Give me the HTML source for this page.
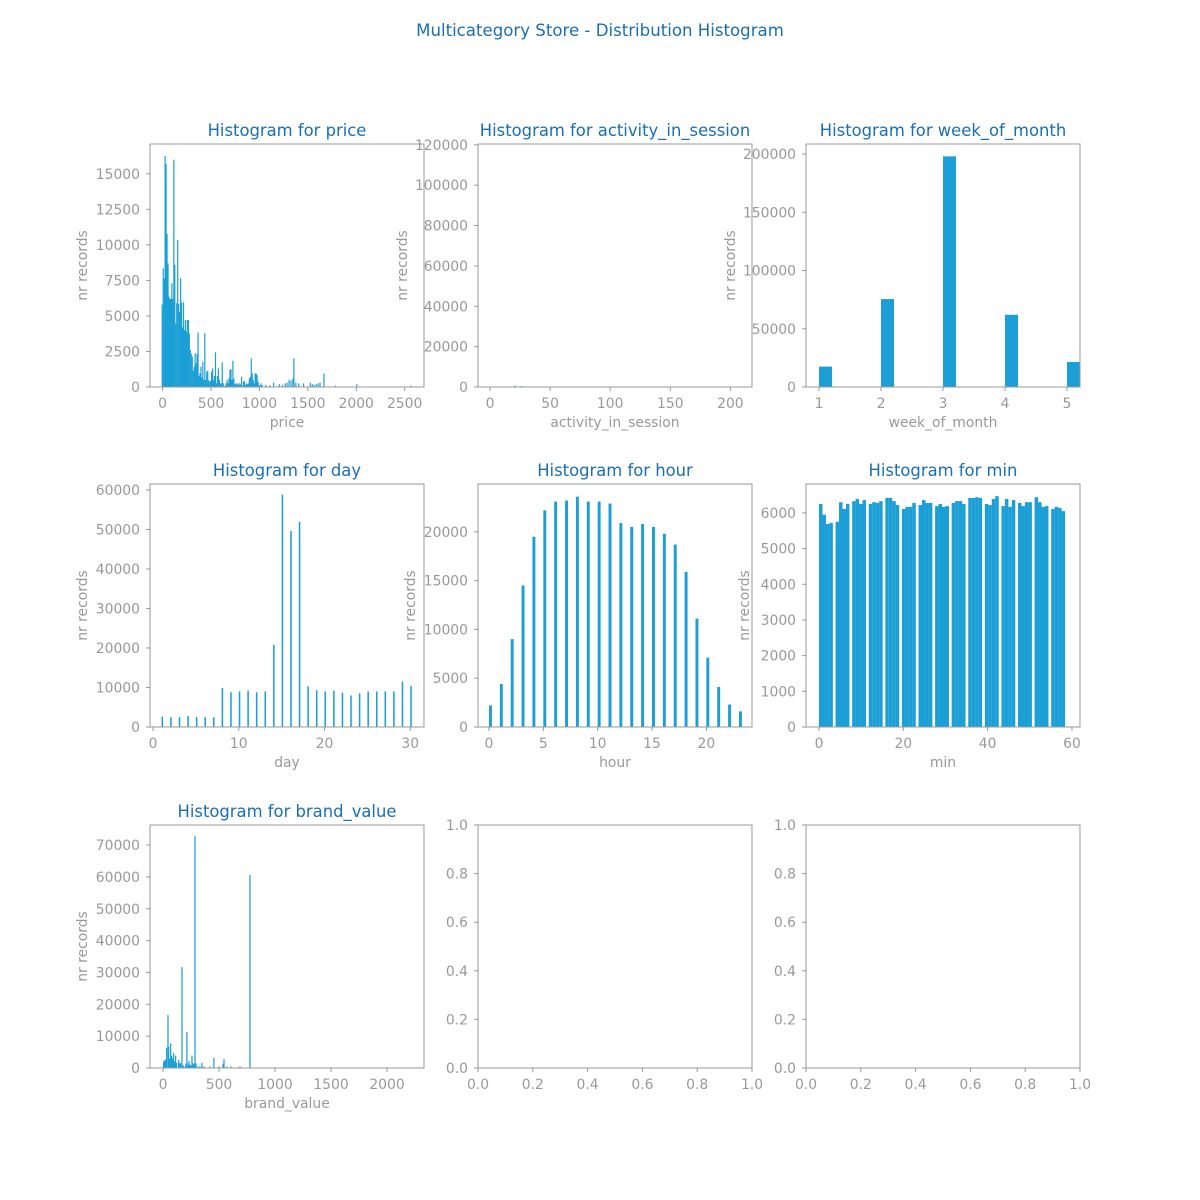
<!DOCTYPE html>
<html><head><meta charset="utf-8">
<style>
body{margin:0;background:#fff;}
svg{display:block;font-family:"DejaVu Sans","Liberation Sans",sans-serif;}
</style></head>
<body>
<svg id="chart" width="1200" height="1200">
<text x="600" y="36" text-anchor="middle" font-size="16.6" fill="#1a6fb4">Multicategory Store - Distribution Histogram</text>
</svg>
<script>
// ---------- data ----------
const priceBinStart = -10;
const priceBinWidth = 10;
const priceCounts = [5800,8350,7650,16260,15680,10770,8700,6360,6200,6200,7300,6200,16000,8600,4480,5900,10350,5840,5300,7650,5960,4200,5960,4000,4700,3900,4720,4720,3780,2600,2320,2140,1150,1430,2370,1670,2320,3830,775,960,1430,680,1780,490,3780,490,1080,1150,490,375,420,1080,1310,490,775,2440,260,775,1310,490,260,260,1740,260,70,70,260,490,260,610,1240,1240,490,1850,610,190,260,190,260,140,260,190,730,70,375,420,140,260,190,260,610,730,2020,960,490,260,960,960,840,375,140,70,260,140];
const priceTailBins = [1060,1100,1140,1200,1230,1260,1280,1300,1320,1340,1350,1370,1400,1450,1520,1540,1560,1580,1600,1620,1660,1780,2000,2560];
const priceTailCounts = [150,120,300,200,150,250,300,500,450,600,2020,300,250,250,300,200,150,200,250,300,960,100,200,100];

const activityValues = [20, 25];
const activityCounts = [600, 400];

const weekValues = [1,2,3,4,5];
const weekCounts = [17500,75500,198000,62000,21500];

const dayValues = [1,2,3,4,5,6,7,8,9,10,11,12,13,14,15,16,17,18,19,20,21,22,23,24,25,26,27,28,29,30];
const dayCounts = [2600,2500,2500,2800,2500,2500,2500,9900,8800,9000,9200,8800,9000,20800,58800,49600,51900,10300,9300,9000,9200,8700,8000,8500,9000,9000,9000,9000,11500,10400];

const hourValues = [0,1,2,3,4,5,6,7,8,9,10,11,12,13,14,15,16,17,18,19,20,21,22,23];
const hourCounts = [2200,4400,9000,14500,19500,22200,23100,23200,23600,23100,23100,22900,20900,20500,20800,20500,19800,18700,15900,11100,7100,4100,2300,1600];

const minCounts = [6250,5950,5690,5720, 5750,6300,6110,6250, 6330,6390,6250,6360, 6250,6300,6280,6330, 6420,6420,6330,6220, 6110,6170,6170,6280, 6220,6360,6280,6280, 6190,6250,6170,6190, 6280,6330,6330,6250, 6420,6420,6440,6420, 6250,6220,6390,6470, 6190,6390,6170,6360, 6280,6190,6300,6300, 6440,6300,6170,6190, 6110,6170,6140,6050];

const brandValues = [0,9,18,27,39,45,54,63,71,80,89,98,107,116,134,143,152,164,173,182,199,208,217,226,235,244,253,262,271,280,289,307,324,342,360,414,449,494,530,539,563,601,682,771];
const brandCounts = [2000,2400,2600,6400,16600,6700,2900,7700,3900,3000,4700,2000,3900,1700,2500,1500,1500,31700,900,500,1500,11300,900,2200,1100,700,3900,1500,1100,72800,1500,500,500,1600,500,500,3200,500,1200,2800,500,500,500,60600];

const priceTicks = [0,500,1000,1500,2000,2500];
const priceYTicks = [0,2500,5000,7500,10000,12500,15000];
const activityTicks = [0,50,100,150,200];
const activityYTicks = [0,20000,40000,60000,80000,100000,120000];
const weekTicks = [1,2,3,4,5];
const weekYTicks = [0,50000,100000,150000,200000];
const dayTicks = [0,10,20,30];
const dayYTicks = [0,10000,20000,30000,40000,50000,60000];
const hourTicks = [0,5,10,15,20];
const hourYTicks = [0,5000,10000,15000,20000];
const minTicks = [0,20,40,60];
const minYTicks = [0,1000,2000,3000,4000,5000,6000];
const brandTicks = [0,500,1000,1500,2000];
const brandYTicks = [0,10000,20000,30000,40000,50000,60000,70000];
const unitTicks = [0,0.2,0.4,0.6,0.8,1.0];

// ---------- drawing ----------
const NS = "http://www.w3.org/2000/svg";
const svg = document.getElementById('chart');
const GRAY = "#999999", BAR = "#1b9fd6", TITLE = "#1a6fb4";
const FS = 13.9, TFS = 16.4;
const cols = [150, 478, 806], rows = [144, 484, 825], W = 274, H = 243;

function mk(tag, attrs, parent) {
  const e = document.createElementNS(NS, tag);
  for (const k in attrs) e.setAttribute(k, attrs[k]);
  parent.appendChild(e);
  return e;
}

function panel(ci, ri, cfg) {
  const x0 = cols[ci], y0 = rows[ri];
  const g = mk('g', {}, svg);
  
  
  const sx = v => x0 + (v - cfg.xd[0]) / (cfg.xd[1] - cfg.xd[0]) * W;
  const sy = v => y0 + H - (v - cfg.yd[0]) / (cfg.yd[1] - cfg.yd[0]) * H;
  const bars = mk('g', {fill: BAR}, g);
  
  
  (cfg.bars || []).forEach(b => {
    const xa = sx(b[0]), xb = sx(b[0] + b[1]);
    const r = mk('rect', {x: xa.toFixed(2), y: sy(b[2]).toFixed(2), width: Math.max(xb - xa, 1.2).toFixed(2), height: (sy(0) - sy(b[2])).toFixed(2)}, bars);
    
    
  });
  const fr = mk('rect', {x: x0, y: y0, width: W, height: H, fill: 'none', stroke: GRAY, 'stroke-width': 1}, g);
  
  
  cfg.xt.forEach(t => {
    const x = sx(t);
    mk('line', {x1: x, x2: x, y1: y0 + H, y2: y0 + H + 4, stroke: GRAY}, g);
    const tx = mk('text', {x: x, y: y0 + H + 21, 'text-anchor': 'middle', 'font-size': FS, fill: GRAY}, g);
    tx.textContent = cfg.fmt ? t.toFixed(1) : t;
    
    
  });
  cfg.yt.forEach(t => {
    const y = sy(t);
    mk('line', {x1: x0, x2: x0 - 4, y1: y, y2: y, stroke: GRAY}, g);
    const tx = mk('text', {x: x0 - 10, y: y + 5, 'text-anchor': 'end', 'font-size': FS, fill: GRAY}, g);
    tx.textContent = cfg.fmt ? t.toFixed(1) : t;
    
    
  });
  if (cfg.title) {
    const tt = mk('text', {x: x0 + W / 2, y: y0 - 8, 'text-anchor': 'middle', 'font-size': TFS, fill: TITLE}, g);
    tt.textContent = cfg.title;
    
    
  }
  if (cfg.xl) {
    const xl = mk('text', {x: x0 + W / 2, y: y0 + H + 40, 'text-anchor': 'middle', 'font-size': FS, fill: GRAY}, g);
    xl.textContent = cfg.xl;
    
    
  }
  if (cfg.yl) {
    const yx = x0 - cfg.ylOff, yy = y0 + H / 2;
    const yl = mk('text', {x: yx, y: yy, 'text-anchor': 'middle', 'font-size': FS, fill: GRAY, transform: `rotate(-90 ${yx} ${yy})`}, g);
    yl.textContent = 'nr records';
    
    
  }
}

const priceBars = priceCounts.map((c, i) => [priceBinStart + i * priceBinWidth, priceBinWidth, c])
  .concat(priceTailBins.map((b, i) => [b, priceBinWidth, priceTailCounts[i]]));
panel(0, 0, {name: 'price', title: 'Histogram for price', xl: 'price', yl: true, ylOff: 63,
  xd: [-130, 2700], yd: [0, 17100], xt: priceTicks, yt: priceYTicks, bars: priceBars});

panel(1, 0, {name: 'activity-in-session', title: 'Histogram for activity_in_session', xl: 'activity_in_session', yl: true, ylOff: 71,
  xd: [-10, 218], yd: [0, 120400], xt: activityTicks, yt: activityYTicks,
  bars: activityValues.map((v, i) => [v, 1.5, activityCounts[i]])});

panel(2, 0, {name: 'week-of-month', title: 'Histogram for week_of_month', xl: 'week_of_month', yl: true, ylOff: 71,
  xd: [0.79, 5.21], yd: [0, 208600], xt: weekTicks, yt: weekYTicks,
  bars: weekValues.map((v, i) => [v, 0.21, weekCounts[i]])});

panel(0, 1, {name: 'day', title: 'Histogram for day', xl: 'day', yl: true, ylOff: 63,
  xd: [-0.35, 31.6], yd: [0, 61500], xt: dayTicks, yt: dayYTicks,
  bars: dayValues.map((v, i) => [v, 0.18, dayCounts[i]])});

panel(1, 1, {name: 'hour', title: 'Histogram for hour', xl: 'hour', yl: true, ylOff: 63,
  xd: [-1.01, 24.2], yd: [0, 24900], xt: hourTicks, yt: hourYTicks,
  bars: hourValues.map((v, i) => [v, 0.27, hourCounts[i]])});

panel(2, 1, {name: 'min', title: 'Histogram for min', xl: 'min', yl: true, ylOff: 57,
  xd: [-3.08, 61.9], yd: [0, 6810], xt: minTicks, yt: minYTicks,
  bars: minCounts.map((c, i) => [Math.floor(i / 4) * 59 / 15 + (i % 4) * 0.82, 0.83, c])});

panel(0, 2, {name: 'brand-value', title: 'Histogram for brand_value', xl: 'brand_value', yl: true, ylOff: 63,
  xd: [-116, 2330], yd: [0, 76300], xt: brandTicks, yt: brandYTicks,
  bars: brandValues.map((v, i) => [v, 11, brandCounts[i]])});

panel(1, 2, {name: 'empty-middle', xd: [0, 1], yd: [0, 1], xt: unitTicks, yt: unitTicks, fmt: true, bars: []});
panel(2, 2, {name: 'empty-right', xd: [0, 1], yd: [0, 1], xt: unitTicks, yt: unitTicks, fmt: true, bars: []});
</script>
</body></html>
